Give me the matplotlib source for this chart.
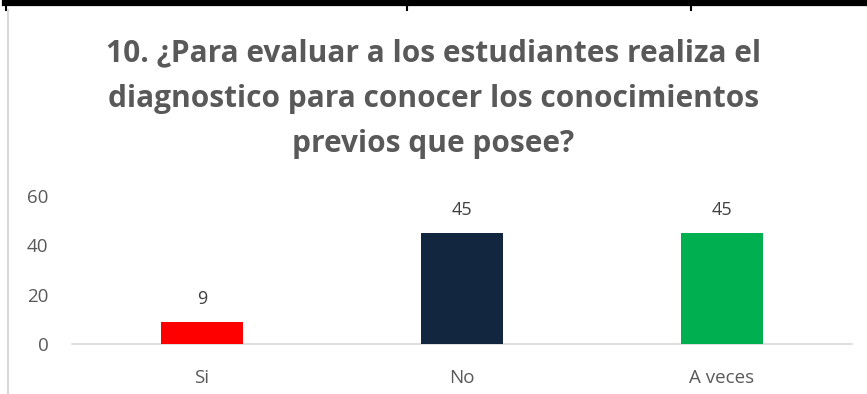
import matplotlib.pyplot as plt
from matplotlib.lines import Line2D

categories = ["Si", "No", "A veces"]
values = [9, 45, 45]
colors = ["#FF0000", "#12263F", "#00B050"]
yticks = [0, 20, 40, 60]
title = ("10. ¿Para evaluar a los estudiantes realiza el\n"
         "diagnostico para conocer los conocimientos\n"
         "previos que posee?")

plt.rcParams['font.family'] = ['Open Sans', 'DejaVu Sans']
gray = "#595959"

fig = plt.figure(figsize=(8.67, 3.94), dpi=100)
W, H = 867, 394

# axes placed in pixel coords: x 72..852, y 196..344 (top-down)
ax = fig.add_axes([72 / W, 1 - 344 / H, (852 - 72) / W, (344 - 196) / H])
x = range(len(categories))
bars = ax.bar(x, values, width=0.315, color=colors, zorder=3)
for b, v in zip(bars, values):
    ax.annotate(str(v), (b.get_x() + b.get_width() / 2, v), xytext=(0, 10),
                textcoords="offset points", ha="center", va="bottom",
                fontsize=13, color="#404040")

ax.set_xlim(-0.5, 2.5)
ax.set_ylim(0, 60)
ax.set_yticks(yticks)
ax.set_xticks(list(x))
ax.set_xticklabels(categories)
ax.tick_params(axis="both", length=0, labelsize=13.5, colors=gray)
ax.tick_params(axis="x", pad=18)
ax.tick_params(axis="y", pad=17)
for s in ["top", "right", "left"]:
    ax.spines[s].set_visible(False)
ax.spines["bottom"].set_color("#D9D9D9")
ax.spines["bottom"].set_linewidth(1.2)

fig.text(0.5, 1 - 99 / H, title, ha="center", va="center", fontsize=21.5,
         fontweight="bold", color=gray, linespacing=1.66)

# table border remnants at top and left
fig.add_artist(Line2D([5 / W, 1], [1 - 3 / H, 1 - 3 / H], color="black", lw=4.5))
for xv in [6, 407, 691]:
    fig.add_artist(Line2D([xv / W, xv / W], [1, 1 - 10 / H], color="black", lw=1.5))
fig.add_artist(Line2D([8 / W, 8 / W], [1 - 10 / H, 0], color="#D9D9D9", lw=1.5))

fig.savefig("out.png", dpi=100)
